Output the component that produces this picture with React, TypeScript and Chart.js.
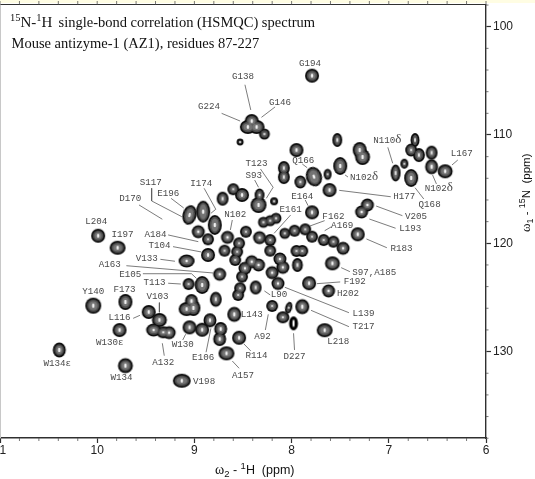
import React, { useEffect, useRef } from "react";
import { Chart, registerables } from "chart.js";

Chart.register(...registerables);

// Peak centres (1H, 15N in ppm) and half-widths (ppm)
const peakH = [
  8.45,8.36,8.41,8.28,8.53,7.79,7.53,7.95,7.30,7.27,
  8.08,8.08,7.91,7.77,7.63,7.50,7.61,6.93,6.84,6.77,
  6.73,6.77,6.69,6.56,6.56,6.42,7.79,7.22,7.28,8.18,
  8.34,8.33,8.60,8.51,8.71,9.05,8.91,8.79,8.96,8.86,
  8.66,8.47,8.54,8.56,8.58,8.69,8.86,8.74,9.08,8.29,
  8.22,8.16,8.33,8.22,8.22,8.07,7.97,7.86,7.79,7.67,
  7.57,7.47,7.95,7.89,7.94,7.58,7.82,7.62,7.32,8.12,
  8.09,8.20,8.14,8.37,8.41,8.34,8.48,8.51,8.53,8.55,
  8.78,8.20,8.03,8.09,7.98,7.89,7.66,9.99,9.79,9.06,
  8.92,9.08,9.01,9.03,10.04,9.71,9.47,9.36,9.42,9.32,
  9.26,9.77,10.39,9.71,9.13,9.05,8.92,8.84,8.73,8.74,
  8.59,8.54,8.67,
];
const peakN = [
  109.26,109.26,108.71,109.91,110.65,104.52,110.46,111.39,111.39,112.03,
  113.05,113.88,114.34,113.85,113.63,112.86,115.08,113.51,112.65,113.97,
  110.46,111.39,111.85,111.63,112.93,113.35,117.14,116.46,117.11,116.12,
  116.46,115.54,115.01,115.54,115.88,117.39,117.08,118.31,118.93,119.63,
  119.45,118.93,120.00,120.78,121.54,120.68,121.08,122.86,121.63,118.06,
  117.91,117.69,119.48,119.70,120.68,119.08,118.84,118.71,119.39,119.70,
  119.85,120.46,120.71,120.71,122.00,121.85,123.69,124.40,119.17,121.45,
  122.22,122.71,123.71,124.08,121.70,122.00,122.31,123.08,124.15,124.77,
  125.17,125.79,125.95,126.83,127.39,125.85,128.03,119.30,120.41,123.76,
  123.85,126.07,125.97,125.33,125.76,125.42,126.34,127.08,128.01,128.22,
  128.25,128.01,129.85,131.30,132.69,127.76,127.98,127.11,127.91,128.84,
  126.56,128.72,130.16,
];
const peakHalfH = [
  .082,.082,.072,.056,.036,.072,.051,.072,.072,.077,
  .061,.061,.061,.082,.041,.072,.072,.051,.041,.072,
  .046,.061,.061,.061,.067,.077,.072,.067,.067,.041,
  .082,.051,.061,.072,.061,.072,.072,.072,.067,.061,
  .067,.061,.061,.061,.061,.061,.072,.067,.082,.056,
  .056,.056,.067,.061,.061,.056,.061,.061,.061,.061,
  .061,.067,.061,.061,.056,.077,.072,.067,.072,.067,
  .067,.067,.067,.061,.067,.067,.067,.061,.061,.061,
  .061,.061,.036,.067,.046,.072,.082,.072,.082,.061,
  .077,.082,.072,.067,.082,.072,.072,.077,.077,.072,
  .067,.072,.067,.077,.092,.072,.072,.067,.067,.067,
  .072,.072,.082,
];
const peakHalfN = [
  .64,.64,.64,.51,.32,.64,.64,.64,.74,.74,
  .64,.64,.60,.92,.51,.83,.64,.78,.46,.83,
  .64,.60,.64,.64,.69,.64,.64,.60,.60,.37,
  .74,.60,.55,.64,.64,.92,1.01,.92,.60,.55,
  .60,.55,.55,.55,.55,.55,.64,.60,.60,.51,
  .51,.51,.60,.55,.55,.51,.55,.55,.55,.55,
  .55,.60,.55,.55,.64,.64,.64,.60,.64,.60,
  .60,.60,.60,.64,.60,.60,.60,.55,.55,.55,
  .69,.55,.55,.55,.65,.69,.64,.64,.64,.55,
  .83,.64,.74,.64,.74,.74,.64,.64,.60,.55,
  .60,.64,.69,.69,.64,.64,.64,.64,.64,.64,
  .69,.64,.64,
];
const peakTilt: Record<number, number> = { 13: -18, 35: 14, 82: 15 };
const hollowPeak = 84;

// Assignment labels
const labelText = [
  "G138","G224","G146","G194","T123","S93","S117","E196","I174","D170","N102","L204","I197","A184",
  "T104","V133","A163","E105","T113","F173","Y140","V103","L116","W130ε","W130","E106","A132","W134ε",
  "W134","V198","A157","R114","A92","L143","L90","D227","L218","T217","L139","H202","F192","S97,A185",
  "R183","E164","E161","F162","A169","L193","V205","H177","Q168","N102δ","N102δ","N110δ","L167","Q166",
];
const labelH = [
  8.50,8.85,8.12,7.81,8.36,8.39,9.45,9.27,8.93,9.66,8.58,10.01,9.74,9.40,
  9.36,9.49,9.87,9.66,9.41,9.72,10.04,9.38,9.77,9.87,9.12,8.91,9.32,10.41,
  9.75,8.90,8.50,8.36,8.30,8.41,8.13,7.97,7.52,7.26,7.26,7.42,7.35,7.15,
  6.87,7.89,8.01,7.57,7.48,6.78,6.72,6.84,6.58,6.48,7.25,7.01,6.25,7.88,
];
const labelN = [
  104.64,107.41,107.05,103.44,112.65,113.79,114.37,115.42,114.50,115.91,117.39,118.01,119.17,119.17,
  120.25,121.45,122.00,122.90,123.64,124.31,124.43,124.89,126.90,129.14,129.33,130.59,131.05,131.14,
  132.44,132.78,132.23,130.41,128.62,126.62,124.77,130.43,129.11,127.73,126.50,124.68,123.57,122.74,
  120.50,115.66,116.90,117.54,118.40,118.68,117.57,115.70,116.46,114.99,113.97,110.55,111.75,112.34,
];

// Leader lines, null breaks one from the next
const _ = null;
const leaderH = [
  8.48,8.42,_, 8.72,8.53,_, 8.31,8.17,_, 8.32,8.19,8.26,_, 8.38,8.34,_, 9.44,9.44,9.13,_,
  9.24,9.11,_, 8.90,8.78,8.83,_, 9.57,9.33,_, 8.61,8.63,_, 9.27,8.96,_, 9.22,8.93,_, 9.35,9.20,_,
  9.70,8.81,_, 9.53,9.03,8.98,_, 9.27,9.14,_, 9.36,9.36,_, 9.63,9.56,_, 9.12,9.09,_, 8.88,8.83,_,
  9.31,9.33,_, 8.54,8.61,_, 8.42,8.49,_, 8.27,8.24,_, 8.22,8.28,_, 7.97,7.98,_, 7.41,7.80,_,
  7.41,8.07,_, 7.50,7.74,_, 7.40,7.49,_, 7.02,7.23,_, 7.86,7.83,_, 8.01,8.18,_, 7.66,7.81,_,
  7.59,7.66,_, 6.93,7.20,_, 6.86,7.13,_, 6.98,7.51,_, 6.64,6.73,_, 6.51,6.55,_, 7.42,7.45,_,
  7.01,6.96,_, 6.29,6.35,_, 7.89,7.84,
];
const leaderN = [
  105.36,107.69,_, 108.00,108.71,_, 108.37,107.41,_, 113.14,114.83,115.85,_, 114.16,114.83,_, 114.92,116.09,117.54,_,
  115.85,116.74,_, 114.92,116.86,117.23,_, 116.46,117.78,_, 117.85,118.77,_, 119.23,119.85,_, 120.31,120.80,_, 121.48,121.66,_,
  122.07,122.74,_, 122.81,122.81,123.23,_, 123.69,123.76,_, 125.48,126.37,_, 126.93,126.65,_, 128.93,128.40,_, 130.06,127.85,_,
  130.38,129.23,_, 131.54,130.87,_, 129.94,129.30,_, 128.01,126.56,_, 124.77,124.40,_, 129.85,128.31,_, 127.70,126.19,_,
  126.41,124.06,_, 123.57,123.73,_, 122.62,122.25,_, 120.41,119.60,_, 116.00,116.53,_, 117.39,119.08,_, 117.91,118.40,_,
  118.47,118.84,_, 118.61,117.76,_, 117.45,116.56,_, 115.70,115.11,_, 115.91,114.87,_, 114.52,113.69,_, 113.88,113.69,_,
  111.14,112.61,_, 112.31,112.77,_, 112.68,113.02,
];

// Axes
const xTicks = [6, 7, 8, 9, 10, 11];
const yTicks = [100, 110, 120, 130];
const xMinorStep = 0.2;
const yMinorStep = 2;
const subtitleLine = "Mouse antizyme-1 (AZ1), residues 87-227";
const titleTail = "single-bond correlation (HSMQC) spectrum";

const SERIF = '"Liberation Serif"';
const SANS = '"Liberation Sans"';
const MONO = '"Liberation Mono"';
const AXIS = "#303030";

// Contour levels, from the outer contour to the inner one
const levelInset = [0, 1.7, 3.4, 5];
const levelColor = ["#0c0c0c", "#4c4c4c", "#747474", "#f0f0f0"];

function ellipseGlyph(rx: number, ry: number, color: string) {
  const c = document.createElement("canvas");
  const big = Math.ceil(Math.max(rx, ry)) + 2;
  c.width = big * 2;
  c.height = big * 2;
  const g = c.getContext("2d")!;
  g.fillStyle = color;
  g.beginPath();
  g.ellipse(big, big, rx, ry, 0, 0, Math.PI * 2);
  g.fill();
  return c;
}

function levelRadii(chart: any, i: number, level: number) {
  const pxH = Math.abs(chart.scales.x.getPixelForValue(7) - chart.scales.x.getPixelForValue(8));
  const pxN = Math.abs(chart.scales.y.getPixelForValue(110) - chart.scales.y.getPixelForValue(100));
  const inset = levelInset[level];
  const rx = peakHalfH[i] * pxH;
  const ry = (peakHalfN[i] * pxN) / 10;
  const hollow = i === hollowPeak;
  if (level === 3) {
    if (hollow) return [0, 0];
    return [Math.min(Math.max(rx - inset, 0.9), 1.3), Math.min(Math.max(ry - inset, 0.9), 2.2)];
  }
  return [Math.max(rx - inset, 0), Math.max(ry - inset, 0)];
}

function levelPaint(i: number, level: number) {
  if (i === hollowPeak) return ["#000", "#000", "#fff", "#fff"][level];
  return levelColor[level];
}

type Run = { t: string; font: string; dy?: number };
function drawRuns(ctx: CanvasRenderingContext2D, x: number, y: number, runs: Run[]) {
  let cx = x;
  for (const r of runs) {
    ctx.font = r.font;
    ctx.fillText(r.t, cx, y + (r.dy || 0));
    cx += ctx.measureText(r.t).width;
  }
}

const decorations = {
  id: "decorations",
  beforeDraw(chart: any) {
    const { ctx, width, height } = chart;
    ctx.save();
    ctx.fillStyle = "#fff";
    ctx.fillRect(0, 0, width, height);
    ctx.fillStyle = "#fffde3";
    ctx.fillRect(0, 0, width, 3);
    ctx.restore();
  },
  afterDraw(chart: any) {
    const { ctx, chartArea: a, scales } = chart;
    const { x, y } = scales;
    ctx.save();
    // frame
    ctx.strokeStyle = AXIS;
    ctx.lineWidth = 1.2;
    ctx.beginPath();
    ctx.moveTo(a.left, a.top);
    ctx.lineTo(a.right, a.top);
    ctx.stroke();
    ctx.strokeStyle = "#c8c8c8";
    ctx.lineWidth = 1;
    ctx.beginPath();
    ctx.moveTo(0.5, a.top);
    ctx.lineTo(0.5, a.bottom);
    ctx.stroke();
    // minor and top ticks
    ctx.strokeStyle = "#555";
    ctx.lineWidth = 0.8;
    ctx.beginPath();
    for (let k = 0; k <= 25; k++) {
      const v = 6 + k * xMinorStep;
      const px = x.getPixelForValue(v);
      ctx.moveTo(px, a.top);
      ctx.lineTo(px, a.top - 3.5);
      if (k % 5 !== 0) {
        ctx.moveTo(px, a.bottom);
        ctx.lineTo(px, a.bottom + 3);
      }
    }
    for (let v = 98; v <= 138; v += yMinorStep) {
      if (v % 10 === 0) continue;
      const py = y.getPixelForValue(v);
      ctx.moveTo(a.right, py);
      ctx.lineTo(a.right + 2.5, py);
    }
    ctx.stroke();

    // titles
    ctx.fillStyle = "#111";
    ctx.textAlign = "left";
    ctx.textBaseline = "alphabetic";
    drawRuns(ctx, 10, 27, [
      { t: "15", font: `10.5px ${SERIF}`, dy: -6 },
      { t: "N-", font: `15px ${SERIF}` },
      { t: "1", font: `10.5px ${SERIF}`, dy: -6 },
      { t: "H", font: `15px ${SERIF}` },
    ]);
    ctx.font = `14.5px ${SERIF}`;
    ctx.fillText(titleTail, 58.5, 27);
    ctx.fillText(subtitleLine, 11.5, 48);

    // axis titles
    drawRuns(ctx, 215, 474, [
      { t: "ω", font: `14px ${SERIF}` },
      { t: "2", font: `9.5px ${SANS}`, dy: 3 },
      { t: " - ", font: `12.5px ${SANS}` },
      { t: "1", font: `9.5px ${SANS}`, dy: -5 },
      { t: "H  (ppm)", font: `12.5px ${SANS}` },
    ]);
    ctx.save();
    ctx.translate(530, 232);
    ctx.rotate(-Math.PI / 2);
    drawRuns(ctx, 0, 0, [
      { t: "ω", font: `13px ${SERIF}` },
      { t: "1", font: `9px ${SANS}`, dy: 3 },
      { t: " - ", font: `11.5px ${SANS}` },
      { t: "15", font: `9px ${SANS}`, dy: -5 },
      { t: "N  (ppm)", font: `11.5px ${SANS}` },
    ]);
    ctx.restore();

    // assignments
    ctx.fillStyle = "#4a4a4a";
    ctx.textBaseline = "middle";
    labelText.forEach((text, i) => {
      const px = x.getPixelForValue(labelH[i]);
      const py = y.getPixelForValue(labelN[i]);
      const hasDelta = text.endsWith("δ");
      const body = hasDelta ? text.slice(0, -1) : text;
      ctx.font = `9.2px ${MONO}`;
      const w = ctx.measureText(body).width;
      ctx.textAlign = "left";
      if (hasDelta) {
        const start = px - (w + 7) / 2;
        ctx.fillText(body, start, py);
        ctx.font = `13px ${SERIF}`;
        ctx.fillText("δ", start + w, py - 1);
      } else {
        ctx.fillText(body, px - w / 2, py);
      }
    });
    ctx.restore();
  },
};

export default function App() {
  const ref = useRef<HTMLCanvasElement>(null);
  useEffect(() => {
    const points = peakH.map((h, i) => ({ x: h, y: peakN[i] }));
    const leaders = leaderH.map((h, i) => ({ x: h, y: leaderN[i] }));
    // Chart.js paints the last dataset first, so the innermost contour comes first
    const levelSets = levelInset
      .map((_inset, level) => ({
        type: "scatter" as const,
        label: `contour ${level}`,
        data: points,
        showLine: false,
        pointRadius: (c: any) => {
          const [rx, ry] = levelRadii(c.chart, c.dataIndex, level);
          return rx > 0 && ry > 0 ? Math.max(rx, ry) : 0;
        },
        pointStyle: (c: any) => {
          const [rx, ry] = levelRadii(c.chart, c.dataIndex, level);
          return ellipseGlyph(Math.max(rx, 0.01), Math.max(ry, 0.01), levelPaint(c.dataIndex, level));
        },
        rotation: (c: any) => peakTilt[c.dataIndex] || 0,
        clip: false as const,
      }))
      .reverse();
    const chart = new Chart(ref.current!, {
      type: "scatter",
      data: {
        datasets: [
          ...levelSets,
          {
            type: "scatter",
            label: "leaders",
            data: leaders as any,
            showLine: true,
            spanGaps: false,
            pointRadius: 0,
            borderColor: "#5a5a5a",
            borderWidth: 0.8,
          },
        ] as any,
      },
      options: {
        responsive: false,
        animation: false,
        events: [],
        layout: { padding: { top: 4.5, left: 0, right: 0, bottom: 0 } },
        plugins: { legend: { display: false }, title: { display: false }, tooltip: { enabled: false } },
        scales: {
          x: {
            type: "linear",
            position: "bottom",
            reverse: true,
            min: 6,
            max: 11,
            afterBuildTicks: (s: any) => {
              s.ticks = xTicks.map((value) => ({ value }));
            },
            afterFit: (s: any) => {
              s.height = 41;
              s.paddingLeft = 0;
              s.paddingRight = 0;
            },
            ticks: {
              autoSkip: false,
              maxRotation: 0,
              padding: 0,
              color: "#222",
              font: { family: "Liberation Sans", size: 12 },
              callback: (v: any) => String(v),
            },
            grid: { drawOnChartArea: false, tickLength: 5, tickColor: AXIS, tickWidth: 1.2 },
            border: { color: AXIS, width: 1.4 },
          },
          y: {
            type: "linear",
            position: "right",
            reverse: true,
            min: 97.95,
            max: 137.98,
            afterBuildTicks: (s: any) => {
              s.ticks = yTicks.map((value) => ({ value }));
            },
            afterFit: (s: any) => {
              s.width = 49;
              s.paddingTop = 0;
              s.paddingBottom = 0;
            },
            ticks: {
              autoSkip: false,
              padding: 2,
              color: "#222",
              font: { family: "Liberation Sans", size: 12 },
              callback: (v: any) => String(v),
            },
            grid: { drawOnChartArea: false, tickLength: 5, tickColor: AXIS, tickWidth: 1.2 },
            border: { color: AXIS, width: 1.4 },
          },
        },
      },
      plugins: [decorations],
    } as any);
    return () => chart.destroy();
  }, []);
  return (
    <div style={{ position: "fixed", left: 0, top: 0, width: 535, height: 479, background: "#fff" }}>
      <canvas ref={ref} width={535} height={479} style={{ display: "block", width: 535, height: 479, filter: "blur(0.3px)" }} />
    </div>
  );
}
